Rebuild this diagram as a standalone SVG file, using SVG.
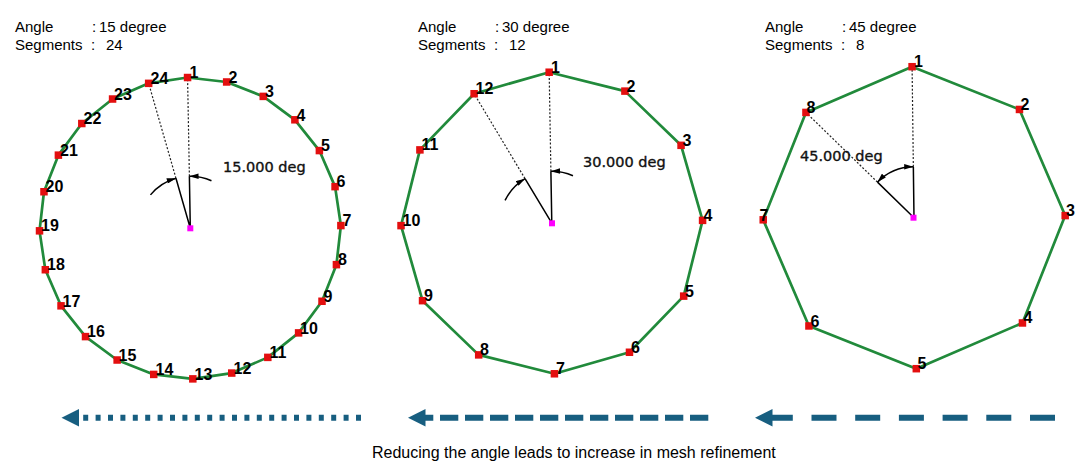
<svg xmlns="http://www.w3.org/2000/svg" width="1088" height="465" viewBox="0 0 1088 465">
<style>
.hdr{font-family:"Liberation Sans",Arial,sans-serif;font-size:15px;fill:#000}
.cap{font-family:"Liberation Sans",Arial,sans-serif;font-size:16px;fill:#000}
.lbl{font-family:"Liberation Sans",Arial,sans-serif;font-size:16px;font-weight:bold;fill:#000}
.deg{font-family:"DejaVu Sans",sans-serif;font-size:14.5px;fill:#111;stroke:#111;stroke-width:0.35}
.edge{fill:none;stroke:#218a3b;stroke-width:2.7;stroke-linejoin:round}
.vtx{fill:#e30f0f}
.ctr{fill:#ff00ff}
.solid{fill:none;stroke:#000;stroke-width:1.5}
.dot{fill:none;stroke:#222;stroke-width:1.2;stroke-dasharray:2 1.8}
.arc{fill:none;stroke:#000;stroke-width:1.5}
.big{fill:none;stroke:#175e80;stroke-width:6}
.head{fill:#175e80}
</style>
<defs>
<marker id="dimArr" viewBox="0 0 10 6" refX="10" refY="3" markerWidth="10" markerHeight="5.5" markerUnits="userSpaceOnUse" orient="auto-start-reverse">
<path d="M0,0 L10,3 L0,6 z" fill="#000"/>
</marker>
</defs>

<g id="headers">
<text class="hdr" x="15" y="31.5">Angle</text>
<text class="hdr" x="92" y="31.5">:</text>
<text class="hdr" x="99" y="31.5">15 degree</text>
<text class="hdr" x="15" y="49.5">Segments</text>
<text class="hdr" x="91" y="49.5">:</text>
<text class="hdr" x="106" y="49.5">24</text>

<text class="hdr" x="418" y="31.5">Angle</text>
<text class="hdr" x="495" y="31.5">:</text>
<text class="hdr" x="502" y="31.5">30 degree</text>
<text class="hdr" x="418" y="49.5">Segments</text>
<text class="hdr" x="494" y="49.5">:</text>
<text class="hdr" x="509" y="49.5">12</text>

<text class="hdr" x="765" y="31.5">Angle</text>
<text class="hdr" x="842" y="31.5">:</text>
<text class="hdr" x="849" y="31.5">45 degree</text>
<text class="hdr" x="765" y="49.5">Segments</text>
<text class="hdr" x="841" y="49.5">:</text>
<text class="hdr" x="856" y="49.5">8</text>
</g>

<g id="connectors">
<polygon class="edge" points="187.57,77.52 226.66,81.98 263.26,96.39 294.89,119.8 319.38,150.58 335.06,186.66 340.88,225.57 336.42,264.66 322.01,301.26 298.6,332.89 267.82,357.38 231.74,373.06 192.83,378.88 153.74,374.42 117.14,360.01 85.51,336.6 61.02,305.82 45.34,269.74 39.52,230.83 43.98,191.74 58.39,155.14 81.8,123.51 112.58,99.02 148.66,83.34"/>
<polygon class="edge" points="549.17,72.22 624.91,91.11 681.06,145.33 702.58,220.37 683.69,296.11 629.47,352.26 554.43,373.78 478.69,354.89 422.54,300.67 401.02,225.63 419.91,149.89 474.13,93.74"/>
<polygon class="edge" points="912.09,66.71 1019.47,109.45 1065.18,215.59 1022.45,322.97 916.31,368.69 808.93,325.95 763.22,219.81 805.95,112.43"/>

<path class="big" d="M361 417.7 L78 417.7" stroke-dasharray="5 7.4"/>
<polygon class="head" points="61.5,417.7 79,409 79,426.5"/>
<path class="big" d="M708.3 417.7 L424 417.7" stroke-dasharray="18.3 6.7"/>
<polygon class="head" points="408,417.7 425.5,409 425.5,426.5"/>
<path class="big" d="M1055 417.7 L771 417.7" stroke-dasharray="25 18.7"/>
<polygon class="head" points="755,417.7 772.5,409 772.5,426.5"/>
</g>

<g id="angle-15">
<path class="dot" d="M189.39 176.31 L187.57 77.52 M175.97 178.31 L148.66 83.34"/>
<path class="solid" d="M190.3 228.3 L189.39 176.31 M190.3 228.3 L175.97 178.31"/>
<path class="arc" d="M189.39 176.31 A52 52 0 0 1 211.45 180.8" marker-start="url(#dimArr)"/>
<path class="arc" d="M175.97 178.31 A52 52 0 0 0 150.47 194.87" marker-start="url(#dimArr)"/>
<rect class="ctr" x="187.3" y="225.3" width="6" height="6"/>
<text class="deg" x="223" y="172">15.000 deg</text>
</g>

<g id="angle-30">
<path class="dot" d="M550.89 171.21 L549.17 72.22 M525.02 178.63 L474.13 93.74"/>
<path class="solid" d="M551.8 223.2 L550.89 171.21 M551.8 223.2 L525.02 178.63"/>
<path class="arc" d="M550.89 171.21 A52 52 0 0 1 572.95 175.7" marker-start="url(#dimArr)"/>
<path class="arc" d="M525.02 178.63 A52 52 0 0 0 505.06 200.4" marker-start="url(#dimArr)"/>
<rect class="ctr" x="549" y="220.3" width="6" height="6"/>
<text class="deg" x="583" y="167">30.000 deg</text>
</g>

<g id="angle-45">
<path class="dot" d="M913.35 166.7 L912.09 66.71 M877.47 182.11 L805.95 112.43"/>
<path class="solid" d="M914 217.7 L913.35 166.7 M914 217.7 L877.47 182.11"/>
<path class="arc" d="M877.47 182.11 A51 51 0 0 1 913.35 166.7" marker-start="url(#dimArr)" marker-end="url(#dimArr)"/>
<rect class="ctr" x="910.5" y="214.7" width="6" height="6"/>
<text class="deg" x="800" y="160.5">45.000 deg</text>
</g>

<g id="mesh-24">
<g id="n24-1"><rect class="vtx" x="183.82" y="73.77" width="7.5" height="7.5"/><text class="lbl" x="189.5" y="78">1</text></g>
<g id="n24-2"><rect class="vtx" x="222.91" y="78.23" width="7.5" height="7.5"/><text class="lbl" x="228.5" y="82.5">2</text></g>
<g id="n24-3"><rect class="vtx" x="259.51" y="92.64" width="7.5" height="7.5"/><text class="lbl" x="265" y="97">3</text></g>
<g id="n24-4"><rect class="vtx" x="291.14" y="116.05" width="7.5" height="7.5"/><text class="lbl" x="296.5" y="120.5">4</text></g>
<g id="n24-5"><rect class="vtx" x="315.63" y="146.83" width="7.5" height="7.5"/><text class="lbl" x="321" y="151">5</text></g>
<g id="n24-6"><rect class="vtx" x="331.31" y="182.91" width="7.5" height="7.5"/><text class="lbl" x="336.5" y="187">6</text></g>
<g id="n24-7"><rect class="vtx" x="337.13" y="221.82" width="7.5" height="7.5"/><text class="lbl" x="342.5" y="226">7</text></g>
<g id="n24-8"><rect class="vtx" x="332.67" y="260.91" width="7.5" height="7.5"/><text class="lbl" x="338" y="265">8</text></g>
<g id="n24-9"><rect class="vtx" x="318.26" y="297.51" width="7.5" height="7.5"/><text class="lbl" x="323.5" y="302">9</text></g>
<g id="n24-10"><rect class="vtx" x="294.85" y="329.14" width="7.5" height="7.5"/><text class="lbl" x="300" y="333.5">10</text></g>
<g id="n24-11"><rect class="vtx" x="264.07" y="353.63" width="7.5" height="7.5"/><text class="lbl" x="269.5" y="358">11</text></g>
<g id="n24-12"><rect class="vtx" x="227.99" y="369.31" width="7.5" height="7.5"/><text class="lbl" x="233.5" y="373.5">12</text></g>
<g id="n24-13"><rect class="vtx" x="189.08" y="375.13" width="7.5" height="7.5"/><text class="lbl" x="194.5" y="379.5">13</text></g>
<g id="n24-14"><rect class="vtx" x="149.99" y="370.67" width="7.5" height="7.5"/><text class="lbl" x="155.5" y="375">14</text></g>
<g id="n24-15"><rect class="vtx" x="113.39" y="356.26" width="7.5" height="7.5"/><text class="lbl" x="118.5" y="360.5">15</text></g>
<g id="n24-16"><rect class="vtx" x="81.76" y="332.85" width="7.5" height="7.5"/><text class="lbl" x="87" y="337">16</text></g>
<g id="n24-17"><rect class="vtx" x="57.27" y="302.07" width="7.5" height="7.5"/><text class="lbl" x="62.5" y="306.5">17</text></g>
<g id="n24-18"><rect class="vtx" x="41.59" y="265.99" width="7.5" height="7.5"/><text class="lbl" x="47" y="270">18</text></g>
<g id="n24-19"><rect class="vtx" x="35.77" y="227.08" width="7.5" height="7.5"/><text class="lbl" x="41" y="231">19</text></g>
<g id="n24-20"><rect class="vtx" x="40.23" y="187.99" width="7.5" height="7.5"/><text class="lbl" x="45.5" y="192">20</text></g>
<g id="n24-21"><rect class="vtx" x="54.64" y="151.39" width="7.5" height="7.5"/><text class="lbl" x="60" y="155.5">21</text></g>
<g id="n24-22"><rect class="vtx" x="78.05" y="119.76" width="7.5" height="7.5"/><text class="lbl" x="83.5" y="124">22</text></g>
<g id="n24-23"><rect class="vtx" x="108.83" y="95.27" width="7.5" height="7.5"/><text class="lbl" x="114" y="99.5">23</text></g>
<g id="n24-24"><rect class="vtx" x="144.91" y="79.59" width="7.5" height="7.5"/><text class="lbl" x="150.5" y="84">24</text></g>
</g>

<g id="mesh-12">
<g id="n12-1"><rect class="vtx" x="545.42" y="68.47" width="7.5" height="7.5"/><text class="lbl" x="551" y="72.5">1</text></g>
<g id="n12-2"><rect class="vtx" x="621.16" y="87.36" width="7.5" height="7.5"/><text class="lbl" x="626.5" y="91.5">2</text></g>
<g id="n12-3"><rect class="vtx" x="677.31" y="141.58" width="7.5" height="7.5"/><text class="lbl" x="682.5" y="145.5">3</text></g>
<g id="n12-4"><rect class="vtx" x="698.83" y="216.62" width="7.5" height="7.5"/><text class="lbl" x="703.5" y="221">4</text></g>
<g id="n12-5"><rect class="vtx" x="679.94" y="292.36" width="7.5" height="7.5"/><text class="lbl" x="685" y="296.5">5</text></g>
<g id="n12-6"><rect class="vtx" x="625.72" y="348.51" width="7.5" height="7.5"/><text class="lbl" x="631" y="352.5">6</text></g>
<g id="n12-7"><rect class="vtx" x="550.68" y="370.03" width="7.5" height="7.5"/><text class="lbl" x="556" y="374">7</text></g>
<g id="n12-8"><rect class="vtx" x="474.94" y="351.14" width="7.5" height="7.5"/><text class="lbl" x="480" y="355">8</text></g>
<g id="n12-9"><rect class="vtx" x="418.79" y="296.92" width="7.5" height="7.5"/><text class="lbl" x="424" y="301">9</text></g>
<g id="n12-10"><rect class="vtx" x="397.27" y="221.88" width="7.5" height="7.5"/><text class="lbl" x="402.5" y="226">10</text></g>
<g id="n12-11"><rect class="vtx" x="416.16" y="146.14" width="7.5" height="7.5"/><text class="lbl" x="421.5" y="150">11</text></g>
<g id="n12-12"><rect class="vtx" x="470.38" y="89.99" width="7.5" height="7.5"/><text class="lbl" x="475.5" y="94">12</text></g>
</g>

<g id="mesh-8">
<g id="n8-1"><rect class="vtx" x="908.34" y="62.96" width="7.5" height="7.5"/><text class="lbl" x="914" y="67">1</text></g>
<g id="n8-2"><rect class="vtx" x="1015.72" y="105.7" width="7.5" height="7.5"/><text class="lbl" x="1020.5" y="110">2</text></g>
<g id="n8-3"><rect class="vtx" x="1061.43" y="211.84" width="7.5" height="7.5"/><text class="lbl" x="1066" y="216">3</text></g>
<g id="n8-4"><rect class="vtx" x="1018.7" y="319.22" width="7.5" height="7.5"/><text class="lbl" x="1023.5" y="323">4</text></g>
<g id="n8-5"><rect class="vtx" x="912.56" y="364.94" width="7.5" height="7.5"/><text class="lbl" x="917.5" y="369">5</text></g>
<g id="n8-6"><rect class="vtx" x="805.18" y="322.2" width="7.5" height="7.5"/><text class="lbl" x="810.5" y="326.5">6</text></g>
<g id="n8-7"><rect class="vtx" x="759.47" y="216.06" width="7.5" height="7.5"/><text class="lbl" x="759.5" y="220.5">7</text></g>
<g id="n8-8"><rect class="vtx" x="802.2" y="108.68" width="7.5" height="7.5"/><text class="lbl" x="806.5" y="112.5">8</text></g>
</g>

<g id="caption">
<text class="cap" x="372" y="457.5">Reducing the angle leads to increase in mesh refinement</text>
</g>
</svg>
